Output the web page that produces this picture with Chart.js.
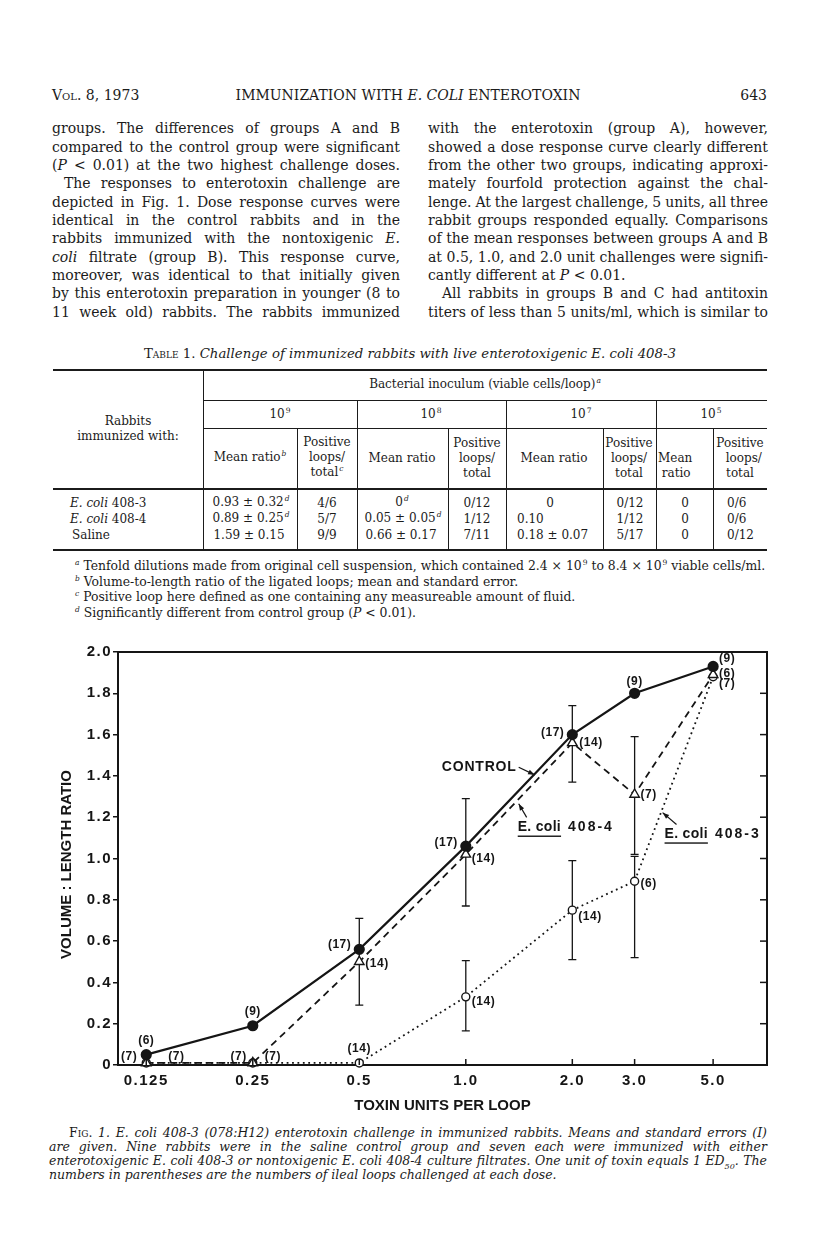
<!DOCTYPE html>
<html>
<head>
<meta charset="utf-8">
<script src="https://cdn.jsdelivr.net/npm/chart.js@4.4.1/dist/chart.umd.min.js"></script>
<style>
html, body { margin: 0; padding: 0; background: #fff; }
#page { position: relative; width: 816px; height: 1253px; overflow: hidden; font-family: "DejaVu Serif", serif; color: #1b1b1b; }
.c, .l, .r { position: absolute; white-space: nowrap; }
.c { transform: translate(-50%, -50%); text-align: center; }
.l { transform: translateY(-50%); }
.r { transform: translate(-100%, -50%); }
.ln { position: absolute; white-space: nowrap; height: 18px; line-height: 18px; font-size: 14px; }
.sc { font-variant: small-caps; }
.tb { font-size: 12px; line-height: 15px; }
.fn { font-size: 12.4px; }
.rule { position: absolute; background: #1b1b1b; }
sup.f { font-size: 7.5px; font-style: italic; vertical-align: 0; position: relative; top: -5px; margin-left: 1px; }
.cap { position: absolute; white-space: nowrap; font-size: 12.5px; line-height: 14px; height: 14px; font-style: italic; }
#chartBox { position: absolute; left: 0; top: 640px; width: 816px; height: 480px; }
</style>
</head>
<body>
<div id="page">
  <div class="l" style="left:52px;top:95px;font-size:14px"><span class="sc">Vol.</span> 8, 1973</div>
  <div class="c" style="left:408px;top:95px;font-size:14px">IMMUNIZATION WITH <i>E. COLI</i> ENTEROTOXIN</div>
  <div class="r" style="left:767px;top:95px;font-size:14px">643</div>

  <div id="leftCol"></div>
  <div id="rightCol"></div>

  <!-- table -->
  <div class="c tb" style="left:410px;top:353px;font-size:13.3px"><span class="sc" style="font-style:normal">Table</span> 1. <i>Challenge of immunized rabbits with live enterotoxigenic E. coli 408-3</i></div>
  <div class="rule" style="left:53px;top:369px;width:714px;height:2px"></div>
  <div class="rule" style="left:203px;top:370px;width:1px;height:180px"></div>
  <div class="rule" style="left:203px;top:400px;width:564px;height:1px"></div>
  <div class="rule" style="left:203px;top:428px;width:564px;height:1px"></div>
  <div class="rule" style="left:357px;top:400px;width:1px;height:150px"></div>
  <div class="rule" style="left:506px;top:400px;width:1px;height:150px"></div>
  <div class="rule" style="left:656px;top:400px;width:1px;height:150px"></div>
  <div class="rule" style="left:297px;top:428px;width:1px;height:122px"></div>
  <div class="rule" style="left:448px;top:428px;width:1px;height:122px"></div>
  <div class="rule" style="left:603px;top:428px;width:1px;height:122px"></div>
  <div class="rule" style="left:713px;top:428px;width:1px;height:122px"></div>
  <div class="rule" style="left:53px;top:488px;width:714px;height:1.5px"></div>
  <div class="rule" style="left:53px;top:549px;width:714px;height:2px"></div>

  <div class="c tb" style="left:485px;top:385px">Bacterial inoculum (viable cells/loop)<sup class="f">a</sup></div>
  <div class="c tb" style="left:128px;top:429px">Rabbits<br>immunized with:</div>
  <div class="c tb" style="left:280px;top:415px">10<sup class="f" style="font-style:normal">9</sup></div>
  <div class="c tb" style="left:431px;top:415px">10<sup class="f" style="font-style:normal">8</sup></div>
  <div class="c tb" style="left:581px;top:415px">10<sup class="f" style="font-style:normal">7</sup></div>
  <div class="c tb" style="left:711px;top:415px">10<sup class="f" style="font-style:normal">5</sup></div>

  <div class="c tb" style="left:250px;top:458px">Mean ratio<sup class="f">b</sup></div>
  <div class="c tb" style="left:327px;top:458px">Positive<br>loops/<br>total<sup class="f">c</sup></div>
  <div class="c tb" style="left:402px;top:458px">Mean ratio</div>
  <div class="c tb" style="left:477px;top:458px">Positive<br>loops/<br>total</div>
  <div class="c tb" style="left:554px;top:458px">Mean ratio</div>
  <div class="c tb" style="left:629px;top:458px">Positive<br>loops/<br>total</div>
  <div class="l tb" style="left:658px;top:466px">Mean<br>&nbsp;ratio</div>
  <div class="c tb" style="left:740px;top:458px">Positive<br>&nbsp;&nbsp;loops/<br>total</div>

  <div class="l tb" style="left:70px;top:503px"><i>E. coli</i> 408-3</div>
  <div class="l tb" style="left:70px;top:519px"><i>E. coli</i> 408-4</div>
  <div class="l tb" style="left:72px;top:535px">Saline</div>

  <div class="c tb" style="left:251px;top:503px">0.93 ± 0.32<sup class="f">d</sup></div>
  <div class="c tb" style="left:251px;top:519px">0.89 ± 0.25<sup class="f">d</sup></div>
  <div class="c tb" style="left:249px;top:535px">1.59 ± 0.15</div>
  <div class="c tb" style="left:327px;top:503px">4/6</div>
  <div class="c tb" style="left:327px;top:519px">5/7</div>
  <div class="c tb" style="left:327px;top:535px">9/9</div>

  <div class="c tb" style="left:402px;top:503px">0<sup class="f">d</sup></div>
  <div class="c tb" style="left:403px;top:519px">0.05 ± 0.05<sup class="f">d</sup></div>
  <div class="c tb" style="left:401px;top:535px">0.66 ± 0.17</div>
  <div class="c tb" style="left:477px;top:503px">0/12</div>
  <div class="c tb" style="left:477px;top:519px">1/12</div>
  <div class="c tb" style="left:477px;top:535px">7/11</div>

  <div class="c tb" style="left:550px;top:503px">0</div>
  <div class="l tb" style="left:517px;top:519px">0.10</div>
  <div class="l tb" style="left:517px;top:535px">0.18 ± 0.07</div>
  <div class="c tb" style="left:630px;top:503px">0/12</div>
  <div class="c tb" style="left:630px;top:519px">1/12</div>
  <div class="c tb" style="left:630px;top:535px">5/17</div>

  <div class="c tb" style="left:685px;top:503px">0</div>
  <div class="c tb" style="left:685px;top:519px">0</div>
  <div class="c tb" style="left:685px;top:535px">0</div>
  <div class="l tb" style="left:727px;top:503px">0/6</div>
  <div class="l tb" style="left:727px;top:519px">0/6</div>
  <div class="l tb" style="left:727px;top:535px">0/12</div>

  <div class="l tb fn" style="left:74px;top:566px"><sup class="f">a</sup> Tenfold dilutions made from original cell suspension, which contained 2.4 × 10<sup class="f" style="font-style:normal">9</sup> to 8.4 × 10<sup class="f" style="font-style:normal">9</sup> viable cells/ml.</div>
  <div class="l tb fn" style="left:74px;top:582px"><sup class="f">b</sup> Volume-to-length ratio of the ligated loops; mean and standard error.</div>
  <div class="l tb fn" style="left:74px;top:597px"><sup class="f">c</sup> Positive loop here defined as one containing any measureable amount of fluid.</div>
  <div class="l tb fn" style="left:74px;top:613px"><sup class="f">d</sup> Significantly different from control group (<i>P</i> &lt; 0.01).</div>

  <div id="chartBox"><canvas id="fig1" width="816" height="480"></canvas></div>

  <div class="cap j" style="left:69px;top:1126px;width:698px"><span class="sc" style="font-style:normal">Fig.</span> 1. E. coli 408-3 (078:H12) enterotoxin challenge in immunized rabbits. Means and standard errors (I)</div>
  <div class="cap j" style="left:49px;top:1140px;width:718px">are given. Nine rabbits were in the saline control group and seven each were immunized with either</div>
  <div class="cap j" style="left:49px;top:1154px;width:718px">enterotoxigenic E. coli 408-3 or nontoxigenic E. coli 408-4 culture filtrates. One unit of toxin equals 1 ED<sub style="font-size:8px">50</sub>. The</div>
  <div class="cap" style="left:49px;top:1168px">numbers in parentheses are the numbers of ileal loops challenged at each dose.</div>
</div>

<script>
// ---- body text ----
const leftLines = [
    ['groups. The differences of groups A and B', 1, 0],
    ['compared to the control group were significant', 1, 0],
    ['(<i>P</i> &lt; 0.01) at the two highest challenge doses.', 1, 0],
    ['The responses to enterotoxin challenge are', 1, 12],
    ['depicted in Fig. 1. Dose response curves were', 1, 0],
    ['identical in the control rabbits and in the', 1, 0],
    ['rabbits immunized with the nontoxigenic <i>E.</i>', 1, 0],
    ['<i>coli</i> filtrate (group B). This response curve,', 1, 0],
    ['moreover, was identical to that initially given', 1, 0],
    ['by this enterotoxin preparation in younger (8 to', 1, 0],
    ['11 week old) rabbits. The rabbits immunized', 1, 0]
];
const rightLines = [
    ['with the enterotoxin (group A), however,', 1, 0],
    ['showed a dose response curve clearly different', 1, 0],
    ['from the other two groups, indicating approxi-', 1, 0],
    ['mately fourfold protection against the chal-', 1, 0],
    ['lenge. At the largest challenge, 5 units, all three', 1, 0],
    ['rabbit groups responded equally. Comparisons', 1, 0],
    ['of the mean responses between groups A and B', 1, 0],
    ['at 0.5, 1.0, and 2.0 unit challenges were signifi-', 1, 0],
    ['cantly different at <i>P</i> &lt; 0.01.', 0, 0],
    ['All rabbits in groups B and C had antitoxin', 1, 14],
    ['titers of less than 5 units/ml, which is similar to', 1, 0]
];

const placeLines = (host, lines, left, width) => {
    lines.forEach(([html, just, indent], i) => {
        const d = document.createElement('div');
        d.className = 'ln' + (just ? ' j' : '');
        d.style.left = (left + indent) + 'px';
        d.style.top = (128.3 + i * 18.34 - 9) + 'px';
        if (just) d.style.width = (width - indent) + 'px';
        d.innerHTML = html;
        host.appendChild(d);
    });
};
placeLines(document.getElementById('leftCol'), leftLines, 52, 348);
placeLines(document.getElementById('rightCol'), rightLines, 428, 340);

// stretch justified lines by word spacing
document.querySelectorAll('.j').forEach((el) => {
    const target = parseFloat(el.style.width);
    const range = document.createRange();
    range.selectNodeContents(el);
    const natural = range.getBoundingClientRect().width;
    const spaces = (el.textContent.match(/ /g) || []).length;
    if (spaces) el.style.wordSpacing = ((target - natural) / spaces) + 'px';
});

// ---- chart data ----
const doses = [0.125, 0.25, 0.5, 1, 2, 3, 5];
const doseLabels = ['0.125', '0.25', '0.5', '1.0', '2.0', '3.0', '5.0'];

const control = [0.05, 0.19, 0.56, 1.06, 1.60, 1.80, 1.93];
const coli4084 = [0.01, 0.01, 0.50, 1.02, 1.56, 1.31, 1.89];
const coli4083 = [0.01, 0.01, 0.01, 0.33, 0.75, 0.89, 1.88];

const err4084Low = [null, null, 0.29, 0.77, 1.37, 1.02, null];
const err4084High = [null, null, 0.71, 1.29, 1.74, 1.59, null];
const err4083Low = [null, null, null, 0.165, 0.51, 0.52, null];
const err4083High = [null, null, null, 0.505, 0.99, 1.01, null];

const controlN = ['(6)', '(9)', '(17)', '(17)', '(17)', '(9)', '(9)'];
const coli4084N = ['(7)', '(7)', '(14)', '(14)', '(14)', '(7)', '(7)'];
const coli4083N = ['(7)', '(7)', '(14)', '(14)', '(14)', '(6)', '(6)'];

// where each count label sits relative to its point (px)
const controlNPos = [[0, -14, 'center'], [0, -14, 'center'], [-8, -5, 'right'], [-8, -3, 'right'], [-8, -2, 'right'], [0, -12, 'center'], [6, -8, 'left']];
const coli4084NPos = [[-9, -6, 'right'], [-6, -6, 'right'], [6, 2, 'left'], [6, 4, 'left'], [7, 0, 'left'], [6, 0, 'left'], [6, 9, 'left']];
const coli4083NPos = [[22, -6, 'left'], [12, -6, 'left'], [0, -14, 'center'], [6, 5, 'left'], [6, 7, 'left'], [6, 2, 'left'], [6, -3, 'left']];

const ink = '#151515';
const sans = '"Liberation Sans", Arial, sans-serif';

const toPoints = (ys) => doses.map((x, i) => ({ x, y: ys[i] }));

const arrow = (ctx, x1, y1, x2, y2) => {
    ctx.beginPath();
    ctx.moveTo(x1, y1);
    ctx.lineTo(x2, y2);
    ctx.stroke();
    const a = Math.atan2(y2 - y1, x2 - x1);
    ctx.beginPath();
    ctx.moveTo(x2, y2);
    ctx.lineTo(x2 - 7 * Math.cos(a - 0.35), y2 - 7 * Math.sin(a - 0.35));
    ctx.lineTo(x2 - 7 * Math.cos(a + 0.35), y2 - 7 * Math.sin(a + 0.35));
    ctx.closePath();
    ctx.fill();
};

const figurePlugin = {
    id: 'figure',
    beforeDraw(chart) {
        chart.ctx.letterSpacing = '1.5px';
    },
    beforeDatasetsDraw(chart) {
        const { ctx, scales: { x, y } } = chart;
        ctx.save();
        ctx.strokeStyle = ink;
        ctx.lineWidth = 1.3;
        const bars = (lo, hi) => {
            doses.forEach((d, i) => {
                if (lo[i] == null) return;
                const px = x.getPixelForValue(d);
                const y1 = y.getPixelForValue(lo[i]);
                const y2 = y.getPixelForValue(hi[i]);
                ctx.beginPath();
                ctx.moveTo(px, y1); ctx.lineTo(px, y2);
                ctx.moveTo(px - 4, y1); ctx.lineTo(px + 4, y1);
                ctx.moveTo(px - 4, y2); ctx.lineTo(px + 4, y2);
                ctx.stroke();
            });
        };
        bars(err4084Low, err4084High);
        bars(err4083Low, err4083High);
        ctx.restore();
    },
    afterDraw(chart) {
        const { ctx, chartArea: a, scales: { x, y } } = chart;
        ctx.save();
        ctx.letterSpacing = '0px';
        ctx.strokeStyle = ink;
        ctx.fillStyle = ink;

        // top and right frame
        ctx.lineWidth = 2;
        ctx.beginPath();
        ctx.moveTo(a.left, a.top);
        ctx.lineTo(a.right, a.top);
        ctx.lineTo(a.right, a.bottom);
        ctx.stroke();

        // inward ticks on right and bottom
        ctx.lineWidth = 1.5;
        y.ticks.forEach((t) => {
            if (t.value <= 0.001 || t.value >= 1.999) return;
            const py = y.getPixelForValue(t.value);
            ctx.beginPath(); ctx.moveTo(a.right - 7, py); ctx.lineTo(a.right, py); ctx.stroke();
        });
        x.ticks.forEach((t) => {
            const px = x.getPixelForValue(t.value);
            ctx.beginPath(); ctx.moveTo(px, a.bottom); ctx.lineTo(px, a.bottom - 6); ctx.stroke();
        });

        // counts in parentheses
        ctx.font = `bold 12px ${sans}`;
        ctx.letterSpacing = '0.5px';
        ctx.textBaseline = 'middle';
        const counts = (ys, labels, pos) => {
            doses.forEach((d, i) => {
                const [dx, dy, align] = pos[i];
                ctx.textAlign = align;
                ctx.fillText(labels[i], x.getPixelForValue(d) + dx, y.getPixelForValue(ys[i]) + dy);
            });
        };
        counts(control, controlN, controlNPos);
        counts(coli4084, coli4084N, coli4084NPos);
        counts(coli4083, coli4083N, coli4083NPos);

        // curve annotations, anchored in data units
        ctx.font = `bold 14px ${sans}`;
        ctx.letterSpacing = '0.8px';
        ctx.textAlign = 'right';
        ctx.fillText('CONTROL', x.getPixelForValue(1.392), y.getPixelForValue(1.442));
        ctx.lineWidth = 1.2;
        arrow(ctx, x.getPixelForValue(1.411), y.getPixelForValue(1.442), x.getPixelForValue(1.565), y.getPixelForValue(1.405));
        arrow(ctx, x.getPixelForValue(1.486), y.getPixelForValue(1.199), x.getPixelForValue(1.411), y.getPixelForValue(1.265));
        arrow(ctx, x.getPixelForValue(3.94), y.getPixelForValue(1.165), x.getPixelForValue(3.60), y.getPixelForValue(1.222));

        const strainLabel = (xv, yv, num) => {
            const px = x.getPixelForValue(xv);
            const py = y.getPixelForValue(yv);
            ctx.textAlign = 'left';
            ctx.letterSpacing = '0.3px';
            ctx.fillText('E. coli', px, py);
            const w = ctx.measureText('E. coli').width;
            ctx.fillRect(px, py + 8, w, 1.4);
            ctx.letterSpacing = '2px';
            ctx.fillText(num, px + w + 7, py);
        };
        strainLabel(1.402, 1.150, '408-4');
        strainLabel(3.645, 1.117, '408-3');

        // axis titles
        ctx.letterSpacing = '0px';
        ctx.font = `bold 15px ${sans}`;
        ctx.textAlign = 'center';
        ctx.fillText('TOXIN UNITS PER LOOP', (a.left + a.right) / 2, 466);
        ctx.translate(67, (a.top + a.bottom) / 2 + 6);
        ctx.rotate(-Math.PI / 2);
        ctx.fillText('VOLUME : LENGTH RATIO', 0, 0);
        ctx.restore();
    }
};

const tickFont = { family: sans, size: 15, weight: 'bold' };

new Chart(document.getElementById('fig1'), {
    type: 'line',
    data: {
        datasets: [
            {
                label: 'Control',
                data: toPoints(control),
                borderColor: ink,
                borderWidth: 2.2,
                pointStyle: 'circle',
                pointRadius: 4.5,
                pointBackgroundColor: ink,
                pointBorderColor: ink,
                clip: false
            },
            {
                label: 'E. coli 408-4',
                data: toPoints(coli4084),
                borderColor: ink,
                borderWidth: 1.8,
                borderDash: [7, 5],
                pointStyle: 'triangle',
                pointRadius: 5.5,
                pointBorderWidth: 1.4,
                pointBackgroundColor: '#fff',
                pointBorderColor: ink,
                clip: false
            },
            {
                label: 'E. coli 408-3',
                data: toPoints(coli4083),
                borderColor: ink,
                borderWidth: 1.8,
                borderDash: [1.8, 3.6],
                pointStyle: 'circle',
                pointRadius: 4,
                pointBorderWidth: 1.4,
                pointBackgroundColor: '#fff',
                pointBorderColor: ink,
                clip: false
            }
        ]
    },
    options: {
        responsive: false,
        animation: false,
        events: [],
        layout: { padding: { left: 0, top: 12, right: 49, bottom: 0 } },
        plugins: { legend: { display: false }, tooltip: { enabled: false } },
        scales: {
            x: {
                type: 'logarithmic',
                min: 0.104,
                max: 7.1,
                afterBuildTicks: (scale) => { scale.ticks = doses.map((v) => ({ value: v })); },
                afterFit: (scale) => { scale.height = 55; },
                ticks: {
                    callback: (v, i) => doseLabels[i],
                    font: tickFont,
                    color: ink,
                    padding: 7,
                    maxRotation: 0,
                    autoSkip: false
                },
                grid: { display: false, drawTicks: false },
                border: { display: true, color: ink, width: 2 }
            },
            y: {
                min: 0,
                max: 2,
                afterFit: (scale) => { scale.width = 118; },
                ticks: {
                    stepSize: 0.2,
                    callback: (v) => (v < 0.001 ? '0' : v.toFixed(1)),
                    font: tickFont,
                    color: ink,
                    padding: 1
                },
                grid: { display: true, drawOnChartArea: false, drawTicks: true, tickLength: 5, color: ink, lineWidth: 1.5 },
                border: { display: true, color: ink, width: 2 }
            }
        }
    },
    plugins: [figurePlugin]
});
</script>
</body>
</html>
